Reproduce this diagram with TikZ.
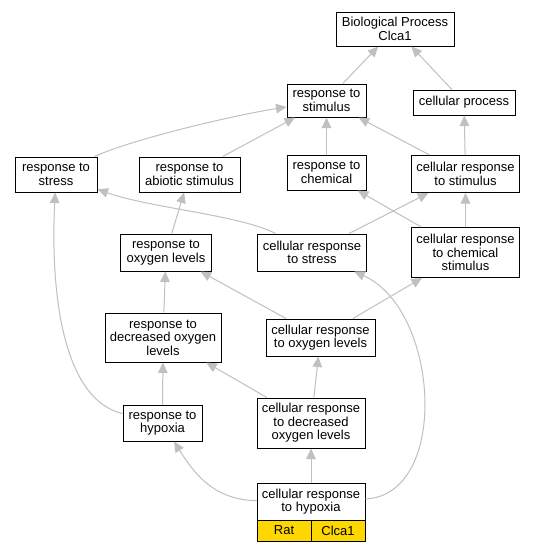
\documentclass[tikz,border=0pt]{standalone}
\usepackage{fontspec}
\setmainfont{Liberation Sans}
\usetikzlibrary{arrows.meta}
\definecolor{edgegray}{RGB}{192,192,192}
\definecolor{gold}{RGB}{255,215,0}
\begin{document}
\begin{tikzpicture}[x=1pt,y=-1pt,
  box/.style={draw=black, line width=1pt, fill=white, inner sep=0pt, align=center,
    font=\fontsize{13}{13.6}\selectfont},
  cell/.style={box, fill=gold},
  edge/.style={draw=edgegray, line width=1pt, -{Triangle[length=10.5pt,width=9.5pt]}}]
\useasboundingbox[fill=white] (0,0) rectangle (536,552);
% nodes
\node[box, minimum width=118pt, minimum height=34pt] (BP) at (395,29) {Biological Process\\Clca1};
\node[box, minimum width=79pt, minimum height=33pt] (RS) at (326.5,100.5) {response to\\stimulus};
\node[box, minimum width=102pt, minimum height=25pt] (CP) at (464,102.5) {cellular process};
\node[box, minimum width=82pt, minimum height=35pt] (RSt) at (56,174.5) {response to\\stress};
\node[box, minimum width=101pt, minimum height=35pt] (RAS) at (189.5,174.5) {response to\\abiotic stimulus};
\node[box, minimum width=79pt, minimum height=35pt] (RC) at (326.5,172.5) {response to\\chemical};
\node[box, minimum width=108pt, minimum height=37pt] (CRS) at (465.5,174) {cellular response\\to stimulus};
\node[box, minimum width=91pt, minimum height=37pt] (ROL) at (166,252.5) {response to\\oxygen levels};
\node[box, minimum width=109pt, minimum height=37pt] (CRSt) at (312,252.5) {cellular response\\to stress};
\node[box, minimum width=108pt, minimum height=50pt] (CRCS) at (465.5,252.5) {cellular response\\to chemical\\stimulus};
\node[box, minimum width=116pt, minimum height=49pt] (RDOL) at (163,337.5) {response to\\decreased oxygen\\levels};
\node[box, minimum width=109pt, minimum height=37pt] (CROL) at (320.5,337.5) {cellular response\\to oxygen levels};
\node[box, minimum width=79pt, minimum height=36pt] (RH) at (162.5,423) {response to\\hypoxia};
\node[box, minimum width=108pt, minimum height=50pt] (CRDOL) at (311,423) {cellular response\\to decreased\\oxygen levels};
\node[box, minimum width=108pt, minimum height=37pt] (CRH) at (311,501.5) {cellular response\\to hypoxia};
\node[cell, minimum width=54pt, minimum height=21pt] (Rat) at (284,530.5) {Rat};
\node[cell, minimum width=54pt, minimum height=21pt] (Clca) at (338,530.5) {Clca1};
% edges
\draw[edge] (RS) -- (BP);
\draw[edge] (CP) -- (BP);
\draw[edge] (RSt) .. controls (130,140) and (230,116) .. (RS);
\draw[edge] (RAS) -- (RS);
\draw[edge] (RC) -- (RS);
\draw[edge] (CRS) -- (RS);
\draw[edge] (CRS) -- (CP);
\draw[edge] (ROL) -- (RAS);
\draw[edge] (CRSt) .. controls (240,215) and (150,208) .. (RSt);
\draw[edge] (CRSt) -- (CRS);
\draw[edge] (CRCS) -- (RC);
\draw[edge] (CRCS) -- (CRS);
\draw[edge] (RDOL) -- (ROL);
\draw[edge] (CROL) -- (ROL);
\draw[edge] (CROL) -- (CRCS);
\draw[edge] (RH) -- (RDOL);
\draw[edge] (RH) .. controls (65,400) and (50,300) .. (RSt);
\draw[edge] (CRDOL) -- (RDOL);
\draw[edge] (CRDOL) -- (CROL);
\draw[edge] (CRH) .. controls (215,500) and (195,475) .. (RH);
\draw[edge] (CRH) -- (CRDOL);
\draw[edge] (CRH) .. controls (450,495) and (440,310) .. (CRSt);
\end{tikzpicture}
\end{document}
